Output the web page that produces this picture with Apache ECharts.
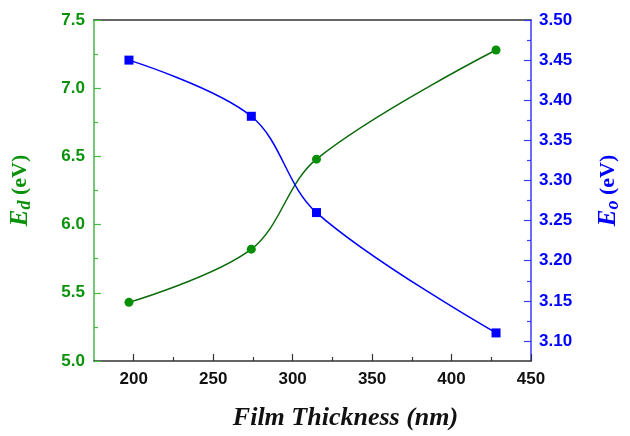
<!DOCTYPE html>
<html>
<head>
<meta charset="utf-8">
<script src="https://cdn.jsdelivr.net/npm/echarts@6/dist/echarts.min.js"></script>
<style>
  html, body { margin: 0; padding: 0; background: #fff; }
  #chart { width: 630px; height: 436px; }
</style>
</head>
<body>
<div id="chart"></div>
<script>
// Film thickness (nm) of the samples
const thickness = [197, 274, 315, 428];
// Dispersion energy E_d (eV)
const edValues = [5.43, 5.82, 6.48, 7.28];
// Single-oscillator energy E_o (eV)
const eoValues = [3.45, 3.38, 3.26, 3.11];

// Tick positions
const xMajor = [200, 250, 300, 350, 400, 450];
const xMinor = [225, 275, 325, 375, 425];
const eoMajor = [3.10, 3.15, 3.20, 3.25, 3.30, 3.35, 3.40, 3.45, 3.50];
const eoMinor = [3.125, 3.175, 3.225, 3.275, 3.325, 3.375, 3.425, 3.475];

const GREEN_AXIS = '#44b944';
const GREEN_TEXT = '#0a920a';
const GREEN_LINE = '#0b6b0b';
const GREEN_MARK = '#079007';
const BLUE = '#0000ff';
const BLUE_AXIS = '#3a3aff';

const tickFont = { fontFamily: 'Liberation Sans, Arial, sans-serif', fontWeight: 'bold', fontSize: 17 };
const SERIF = 'Liberation Serif, Times New Roman, serif';

function axisTitle(color) {
  return {
    rich: {
      e: { fontFamily: SERIF, fontStyle: 'italic', fontWeight: 'bold', fontSize: 25, color: color },
      s: { fontFamily: SERIF, fontStyle: 'italic', fontWeight: 'bold', fontSize: 18, color: color, verticalAlign: 'bottom', padding: [9, 0, 0, 0] },
      u: { fontFamily: SERIF, fontWeight: 'bold', fontSize: 22, color: color }
    }
  };
}

const chart = echarts.init(document.getElementById('chart'), null, { renderer: 'canvas' });

chart.setOption({
  animation: false,
  backgroundColor: '#ffffff',
  grid: { left: 81, right: 80, top: 20, bottom: 56, containLabel: false },
  xAxis: [
    {
      type: 'value', min: 175, max: 450, interval: 25, position: 'bottom',
      axisLine: { show: true, lineStyle: { color: '#333', width: 1.5 } },
      axisTick: { show: true, inside: true, length: 7, customValues: xMajor, lineStyle: { color: '#333', width: 1.2 } },
      axisLabel: { customValues: xMajor, margin: 10, color: '#111', ...tickFont },
      splitLine: { show: false },
      name: 'Film Thickness (nm)', nameLocation: 'middle', nameGap: 44,
      nameTextStyle: {
        fontFamily: SERIF, fontStyle: 'italic', fontWeight: 'bold',
        fontSize: 26, color: '#111', padding: [0, 0, 0, 66]
      }
    },
    {
      type: 'value', min: 175, max: 450, interval: 25, position: 'bottom',
      axisLine: { show: false },
      axisTick: { show: true, inside: true, length: 4, customValues: xMinor, lineStyle: { color: '#333', width: 1.2 } },
      axisLabel: { show: false }, splitLine: { show: false }
    },
    {
      type: 'value', min: 175, max: 450, position: 'top',
      axisLine: { show: true, lineStyle: { color: '#333', width: 1.5 } },
      axisTick: { show: false }, axisLabel: { show: false }, splitLine: { show: false }
    }
  ],
  yAxis: [
    {
      type: 'value', min: 5.0, max: 7.5, interval: 0.5, position: 'left',
      axisLine: { show: true, lineStyle: { color: GREEN_AXIS, width: 1.5 } },
      axisTick: { show: true, inside: true, length: 7, lineStyle: { color: GREEN_AXIS, width: 1.2 } },
      minorTick: { show: true, splitNumber: 2, length: 4, lineStyle: { color: GREEN_AXIS, width: 1.2 } },
      axisLabel: { margin: 9, color: GREEN_TEXT, formatter: v => v.toFixed(1), ...tickFont },
      splitLine: { show: false },
      name: '{e|E}{s|d}{u| (eV)}', nameLocation: 'middle', nameGap: 60, nameRotate: 90,
      nameTextStyle: axisTitle(GREEN_TEXT)
    },
    {
      type: 'value', min: 3.075, max: 3.5, interval: 0.025, position: 'right',
      axisLine: { show: true, lineStyle: { color: BLUE_AXIS, width: 1.5 } },
      axisTick: { show: true, inside: true, length: 7, customValues: eoMajor, lineStyle: { color: BLUE_AXIS, width: 1.2 } },
      axisLabel: { customValues: eoMajor, margin: 8, color: BLUE, formatter: v => v.toFixed(2), ...tickFont },
      splitLine: { show: false },
      name: '{e|E}{s|o}{u| (eV)}', nameLocation: 'middle', nameGap: 64, nameRotate: 90,
      nameTextStyle: axisTitle(BLUE)
    },
    {
      type: 'value', min: 3.075, max: 3.5, interval: 0.025, position: 'right',
      axisLine: { show: false },
      axisTick: { show: true, inside: true, length: 4, customValues: eoMinor, lineStyle: { color: BLUE_AXIS, width: 1.2 } },
      axisLabel: { show: false }, splitLine: { show: false }
    }
  ],
  series: [
    {
      name: 'Ed', type: 'line', xAxisIndex: 0, yAxisIndex: 0,
      data: thickness.map((t, i) => [t, edValues[i]]),
      smooth: 0.35,
      symbol: 'circle', symbolSize: 9,
      itemStyle: { color: GREEN_MARK },
      lineStyle: { color: GREEN_LINE, width: 1.5 }
    },
    {
      name: 'Eo', type: 'line', xAxisIndex: 0, yAxisIndex: 1,
      data: thickness.map((t, i) => [t, eoValues[i]]),
      smooth: 0.35,
      symbol: 'rect', symbolSize: 9,
      itemStyle: { color: BLUE },
      lineStyle: { color: BLUE, width: 1.5 }
    }
  ]
});
</script>
</body>
</html>
